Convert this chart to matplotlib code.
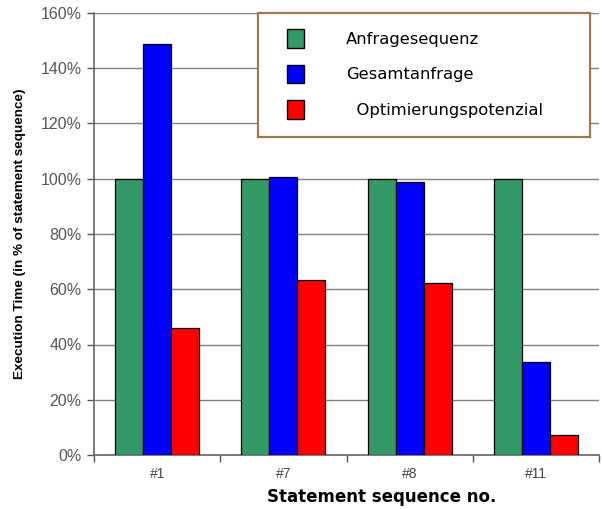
import matplotlib
matplotlib.use("Agg")
import matplotlib.pyplot as plt
import numpy as np
from matplotlib.patches import Patch, Rectangle
from matplotlib.ticker import FuncFormatter, MultipleLocator

categories = ["#1", "#7", "#8", "#11"]
series_names = ["Anfragesequenz", "Gesamtanfrage", "  Optimierungspotenzial"]
anfragesequenz = [100, 100, 100, 100]
gesamtanfrage = [148.8, 100.6, 98.8, 33.7]
optimierung = [46.0, 63.3, 62.3, 7.2]
colors = ["#339966", "#0000FF", "#FF0000"]

W, H = 602, 509
fig = plt.figure(figsize=(W / 100, H / 100), dpi=100)
ax = fig.add_axes([94 / W, 1 - 455 / H, (599 - 94) / W, (455 - 13) / H])

x = np.arange(len(categories))
bw = 0.222
for i, (vals, c) in enumerate(zip([anfragesequenz, gesamtanfrage, optimierung], colors)):
    ax.bar(x + (i - 1) * bw, vals, width=bw, color=c, edgecolor="black",
           linewidth=0.9, zorder=3)

ax.set_xlim(-0.5, len(categories) - 0.5)
ax.set_ylim(0, 160)
ax.yaxis.set_major_locator(MultipleLocator(20))
ax.yaxis.set_major_formatter(FuncFormatter(lambda v, p: f"{int(round(v))}%"))
ax.grid(axis="y", color="#808080", linewidth=1.0, zorder=0)
ax.set_axisbelow(True)

# category ticks at boundaries
ax.set_xticks(x)
ax.set_xticklabels(categories, fontsize=10, color="#444444", family="Liberation Sans")
ax.tick_params(axis="x", length=0, pad=8.5)
ax.set_xticks(np.arange(len(categories) + 1) - 0.5, minor=True)
ax.tick_params(axis="x", which="minor", length=5, color="#555555", width=1)
ax.tick_params(axis="y", length=5, color="#555555", width=1, labelsize=11.5,
               labelcolor="#555555", pad=4)
for lab in ax.get_yticklabels():
    lab.set_family("Liberation Sans")

for s in ["top", "right"]:
    ax.spines[s].set_visible(False)
ax.spines["left"].set_color("#666666")
ax.spines["bottom"].set_color("#666666")
ax.spines["left"].set_linewidth(1.2)
ax.spines["bottom"].set_linewidth(1.2)

ax.set_ylabel("Execution Time (in % of statement sequence)", fontsize=9.7,
              fontweight="bold", family="Liberation Sans", labelpad=10)
ax.set_xlabel("Statement sequence no.", fontsize=12, fontweight="bold",
              family="DejaVu Sans")
ax.xaxis.set_label_coords((382 - 94) / (599 - 94), -(497 - 455) / (455 - 13))
ax.xaxis.label.set_va("center")

# legend box
frame = Rectangle((258 / W, 1 - 137 / H), (590 - 258) / W, (137 - 13) / H,
                  transform=fig.transFigure, facecolor="white",
                  edgecolor="#A07850", linewidth=1.6, zorder=5)
fig.add_artist(frame)
handles = [Patch(facecolor=c, edgecolor="black", linewidth=1.0) for c in colors]
leg = fig.legend(handles, series_names, loc="upper left",
                 bbox_to_anchor=(279 / W, 1 - 21 / H), frameon=False,
                 fontsize=11.8, handlelength=1.0, handleheight=1.4,
                 handletextpad=2.6, labelspacing=1.0, borderpad=0)
leg.set_zorder(6)

fig.savefig("out.png", dpi=100)
